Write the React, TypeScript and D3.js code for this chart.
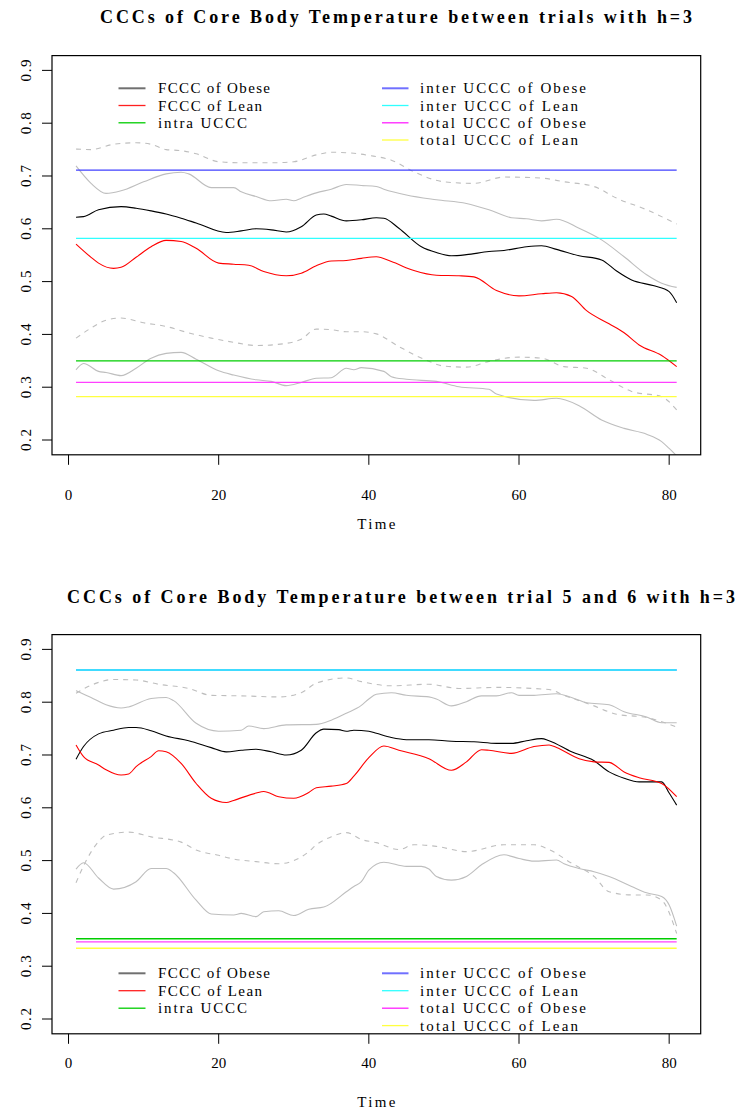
import React from 'react';
import * as d3 from 'd3';

type Pt = [number, number];

// ---- data (time, CCC) ----
const xTicks = [0, 20, 40, 60, 80];
const yTicks = [0.2, 0.3, 0.4, 0.5, 0.6, 0.7, 0.8, 0.9];
const legendLeft = ['FCCC of Obese', 'FCCC of Lean', 'intra UCCC'];
const legendRight = ['inter UCCC of Obese', 'inter UCCC of Lean', 'total UCCC of Obese', 'total UCCC of Lean'];

// panel 1: between trials
const obese1: Pt[] = [[1,.622],[2,.623],[4,.636],[7,.642],[9,.639],[11,.634],[13,.628],[15,.620],[17,.611],[21,.593],[23,.596],[25,.600],[27,.598],[29,.594],[31,.604],[33,.626],[34,.628],[35,.624],[37,.615],[39,.617],[41,.621],[42,.620],[44,.601],[47,.566],[49,.555],[51,.549],[53,.551],[56,.557],[58,.559],[61,.566],[63,.568],[65,.561],[68,.549],[71,.541],[73,.520],[75,.503],[78,.492],[80,.481],[81,.460]];
const lean1: Pt[] = [[1,.571],[3,.546],[4,.535],[6,.525],[7,.527],[9,.546],[11,.566],[13,.578],[15,.576],[17,.563],[20,.535],[22,.533],[24,.531],[26,.519],[29,.511],[31,.516],[33,.530],[35,.539],[37,.540],[39,.544],[41,.547],[43,.538],[46,.521],[49,.512],[52,.511],[54,.509],[57,.483],[60,.473],[63,.477],[65,.479],[67,.472],[69,.445],[72,.420],[74,.403],[76,.380],[79,.360],[81,.339]];
const obeseHi1: Pt[] = [[1,.719],[3,.686],[5,.667],[7,.672],[10,.689],[13,.704],[15,.707],[16,.704],[19,.678],[22,.678],[23,.670],[25,.661],[27,.653],[29,.656],[30,.653],[31,.658],[33,.668],[35,.675],[37,.684],[39,.682],[41,.680],[42,.675],[45,.664],[49,.655],[53,.648],[56,.636],[59,.621],[61,.619],[63,.615],[65,.618],[68,.601],[71,.579],[74,.547],[77,.513],[79,.497],[81,.489]];
const obeseLo1: Pt[] = [[1,.333],[2,.345],[4,.330],[5,.328],[7,.322],[9,.336],[11,.355],[13,.364],[15,.366],[17,.353],[20,.331],[22,.323],[25,.314],[27,.311],[29,.303],[31,.309],[33,.317],[35,.318],[37,.336],[38,.333],[39,.337],[42,.330],[43,.320],[45,.315],[49,.311],[52,.301],[56,.296],[57,.287],[62,.275],[65,.279],[68,.265],[71,.238],[74,.222],[77,.211],[79,.197],[80,.184],[81,.170]];
const leanHi1: Pt[] = [[1,.751],[3,.750],[6,.760],[9,.763],[11,.760],[13,.750],[15,.748],[17,.742],[20,.727],[23,.725],[27,.725],[30,.727],[33,.740],[35,.745],[38,.743],[40,.739],[43,.730],[46,.708],[50,.689],[54,.686],[58,.698],[63,.696],[66,.689],[70,.680],[73,.658],[77,.636],[81,.609]];
const leanLo1: Pt[] = [[1,.393],[3,.412],[5,.427],[7,.431],[10,.422],[13,.415],[16,.403],[19,.393],[22,.385],[25,.379],[29,.383],[31,.391],[33,.410],[35,.409],[37,.405],[39,.405],[41,.401],[44,.377],[48,.349],[50,.340],[53,.338],[56,.349],[60,.357],[63,.355],[66,.339],[69,.336],[72,.314],[75,.292],[79,.282],[81,.257]];
// intra, inter obese, inter lean, total obese, total lean
const levels1 = [0.350, 0.711, 0.582, 0.309, 0.282];

// panel 2: trial 5 vs 6
const obese2: Pt[] = [[1,.692],[2,.716],[4,.740],[6,.747],[8,.752],[9,.752],[11,.746],[13,.736],[16,.727],[19,.714],[21,.706],[23,.709],[25,.711],[27,.706],[29,.700],[31,.709],[33,.742],[34,.749],[36,.748],[37,.745],[38,.747],[40,.745],[41,.741],[43,.733],[45,.729],[48,.729],[51,.726],[54,.725],[57,.722],[59,.722],[61,.727],[63,.731],[64,.727],[67,.706],[70,.689],[72,.668],[74,.656],[76,.649],[79,.649],[80,.628],[81,.605]];
const lean2: Pt[] = [[1,.719],[2,.697],[4,.681],[5,.672],[7,.662],[8,.664],[9,.678],[11,.697],[12,.708],[13,.706],[15,.684],[17,.646],[19,.618],[21,.610],[22,.614],[25,.628],[26,.631],[28,.621],[30,.618],[32,.629],[33,.638],[35,.641],[37,.646],[38,.660],[40,.695],[42,.717],[44,.709],[48,.693],[51,.671],[53,.687],[55,.710],[56,.709],[59,.703],[62,.716],[64,.719],[65,.714],[68,.693],[70,.687],[72,.686],[74,.668],[76,.657],[79,.646],[81,.621]];
const obeseHi2: Pt[] = [[1,.822],[3,.809],[5,.795],[7,.789],[8,.791],[11,.807],[13,.809],[14,.803],[17,.760],[20,.745],[23,.747],[24,.755],[26,.750],[29,.757],[33,.758],[35,.766],[37,.779],[39,.794],[40,.806],[41,.815],[43,.818],[45,.813],[48,.810],[49,.806],[51,.793],[53,.801],[55,.812],[57,.812],[59,.818],[60,.813],[62,.813],[65,.816],[67,.809],[69,.799],[72,.795],[74,.782],[77,.772],[79,.761],[81,.761]];
const obeseLo2: Pt[] = [[1,.484],[2,.496],[4,.467],[6,.446],[9,.460],[11,.485],[13,.485],[14,.477],[17,.425],[19,.399],[22,.397],[23,.400],[25,.394],[26,.403],[28,.405],[30,.396],[32,.408],[34,.412],[37,.441],[38,.451],[39,.460],[40,.482],[42,.497],[45,.489],[47,.489],[48,.484],[49,.470],[51,.463],[53,.470],[55,.492],[58,.511],[60,.504],[62,.499],[65,.501],[66,.494],[68,.485],[70,.479],[72,.470],[75,.451],[77,.439],[79,.432],[80,.416],[81,.376]];
const leanHi2: Pt[] = [[1,.817],[3,.832],[6,.843],[9,.842],[12,.834],[16,.826],[19,.813],[23,.812],[28,.810],[31,.818],[33,.836],[37,.846],[39,.839],[43,.831],[48,.834],[52,.826],[57,.828],[64,.824],[66,.813],[70,.793],[73,.777],[77,.771],[81,.753]];
const leanLo2: Pt[] = [[1,.458],[2,.490],[4,.536],[5,.548],[8,.554],[11,.545],[15,.535],[17,.520],[20,.510],[22,.503],[25,.498],[28,.494],[30,.500],[32,.517],[33,.530],[35,.545],[37,.553],[39,.540],[41,.534],[44,.521],[46,.530],[49,.527],[53,.517],[58,.530],[62,.530],[64,.521],[67,.495],[70,.470],[72,.441],[75,.435],[77,.435],[79,.425],[81,.362]];
const levels2 = [0.352, 0.861, 0.861, 0.346, 0.334];

const levelColors = ['#00cd00', '#4040ff', '#30ffff', '#ff40ff', '#ffff40'];
const levelOrder = [1, 2, 4, 3, 0];
const legendLeftColors = ['#707070', '#ff2020', '#00cd00'];
const legendRightColors = ['#7070ff', '#30ffff', '#ff20ff', '#ffff40'];
const legendLeftLen = [112, 104, 89];
const legendRightLen = [166, 158, 166, 158];

const FONT = '"Liberation Serif", "DejaVu Serif", serif';

type PanelProps = {
  id: string;
  title: string;
  titleX: [number, number];
  titleBase: number;
  boxTop: number;
  boxBottom: number;
  tickBase: number;
  timeBase: number;
  legendY: number[];
  obese: Pt[];
  lean: Pt[];
  obeseHi: Pt[];
  obeseLo: Pt[];
  leanHi: Pt[];
  leanLo: Pt[];
  levels: number[];
};

const Panel = (p: PanelProps) => {
  const x = d3.scaleLinear().domain([-2.2, 84.2]).range([52, 700.7]);
  const y = d3.scaleLinear().domain([0.172, 0.928]).range([p.boxBottom, p.boxTop]);
  const line = d3.line<Pt>().x(d => x(d[0])).y(d => y(d[1])).curve(d3.curveMonotoneX);
  const left = x.range()[0];
  const right = x.range()[1];

  return (
    <g fontFamily={FONT}>
      <defs>
        <clipPath id={p.id}>
          <rect x={left} y={p.boxTop} width={right - left} height={p.boxBottom - p.boxTop} />
        </clipPath>
      </defs>
      <text x={p.titleX[0]} y={p.titleBase} fontSize={18} fontWeight="bold"
        textLength={p.titleX[1] - p.titleX[0]} lengthAdjust="spacing">{p.title}</text>

      <g clipPath={`url(#${p.id})`} fill="none">
        {[p.obeseHi, p.obeseLo].map((s, i) => (
          <path key={'o' + i} d={line(s) || ''} stroke="#bebebe" strokeWidth={1.1} />
        ))}
        {[p.leanHi, p.leanLo].map((s, i) => (
          <path key={'l' + i} d={line(s) || ''} stroke="#bebebe" strokeWidth={1.1} strokeDasharray="5,5" />
        ))}
        <path d={line(p.obese) || ''} stroke="#000" strokeWidth={1.1} />
        <path d={line(p.lean) || ''} stroke="#ff0000" strokeWidth={1.1} />
        {levelOrder.map(i => (
          <line key={'h' + i} x1={x(1)} x2={x(81)} y1={y(p.levels[i])} y2={y(p.levels[i])}
            stroke={levelColors[i]} strokeWidth={1.3} />
        ))}
      </g>

      <rect x={left} y={p.boxTop} width={right - left} height={p.boxBottom - p.boxTop}
        fill="none" stroke="#000" strokeWidth={1.2} />

      {/* y axis */}
      {yTicks.map(t => (
        <g key={'y' + t}>
          <line x1={left - 10} x2={left} y1={y(t)} y2={y(t)} stroke="#000" />
          <text transform={`translate(31,${y(t)}) rotate(-90)`} textAnchor="middle" fontSize={15}
            textLength={22} lengthAdjust="spacing">{t.toFixed(1)}</text>
        </g>
      ))}
      {/* x axis */}
      {xTicks.map(t => (
        <g key={'x' + t}>
          <line x1={x(t)} x2={x(t)} y1={p.boxBottom} y2={p.boxBottom + 10} stroke="#000" />
          <text x={x(t)} y={p.tickBase} textAnchor="middle" fontSize={15}>{t}</text>
        </g>
      ))}
      <text x={(left + right) / 2} y={p.timeBase} textAnchor="middle" fontSize={15}
        textLength={38} lengthAdjust="spacing">Time</text>

      {/* legend */}
      {legendLeft.map((s, i) => (
        <g key={'ll' + i}>
          <line x1={118.5} x2={145.5} y1={p.legendY[i]} y2={p.legendY[i]} stroke={legendLeftColors[i]} strokeWidth={i === 0 ? 2 : 1.3} />
          <text x={158} y={p.legendY[i] + 5} fontSize={15} textLength={legendLeftLen[i]} lengthAdjust="spacing">{s}</text>
        </g>
      ))}
      {legendRight.map((s, i) => (
        <g key={'lr' + i}>
          <line x1={382} x2={408.5} y1={p.legendY[i]} y2={p.legendY[i]} stroke={legendRightColors[i]} strokeWidth={i === 0 ? 2 : 1.3} />
          <text x={420} y={p.legendY[i] + 5} fontSize={15} textLength={legendRightLen[i]} lengthAdjust="spacing">{s}</text>
        </g>
      ))}
    </g>
  );
};

export default function App() {
  return (
    <svg width={739} height={1110} style={{ position: 'absolute', left: 0, top: 0, background: '#fff' }}>
      <rect width={739} height={1110} fill="#fff" />
      <Panel id="clipA" title="CCCs of Core Body Temperature between trials with h=3"
        titleX={[100, 692]} titleBase={23} boxTop={55.6} boxBottom={454.8} tickBase={500} timeBase={529}
        legendY={[88.3, 105.5, 122.8, 140]}
        obese={obese1} lean={lean1} obeseHi={obeseHi1} obeseLo={obeseLo1} leanHi={leanHi1} leanLo={leanLo1}
        levels={levels1} />
      <Panel id="clipB" title="CCCs of Core Body Temperature between trial 5 and 6 with h=3"
        titleX={[67, 735]} titleBase={603} boxTop={634.6} boxBottom={1033.8} tickBase={1068} timeBase={1107}
        legendY={[973.3, 990.7, 1008.2, 1025.6]}
        obese={obese2} lean={lean2} obeseHi={obeseHi2} obeseLo={obeseLo2} leanHi={leanHi2} leanLo={leanLo2}
        levels={levels2} />
    </svg>
  );
}
